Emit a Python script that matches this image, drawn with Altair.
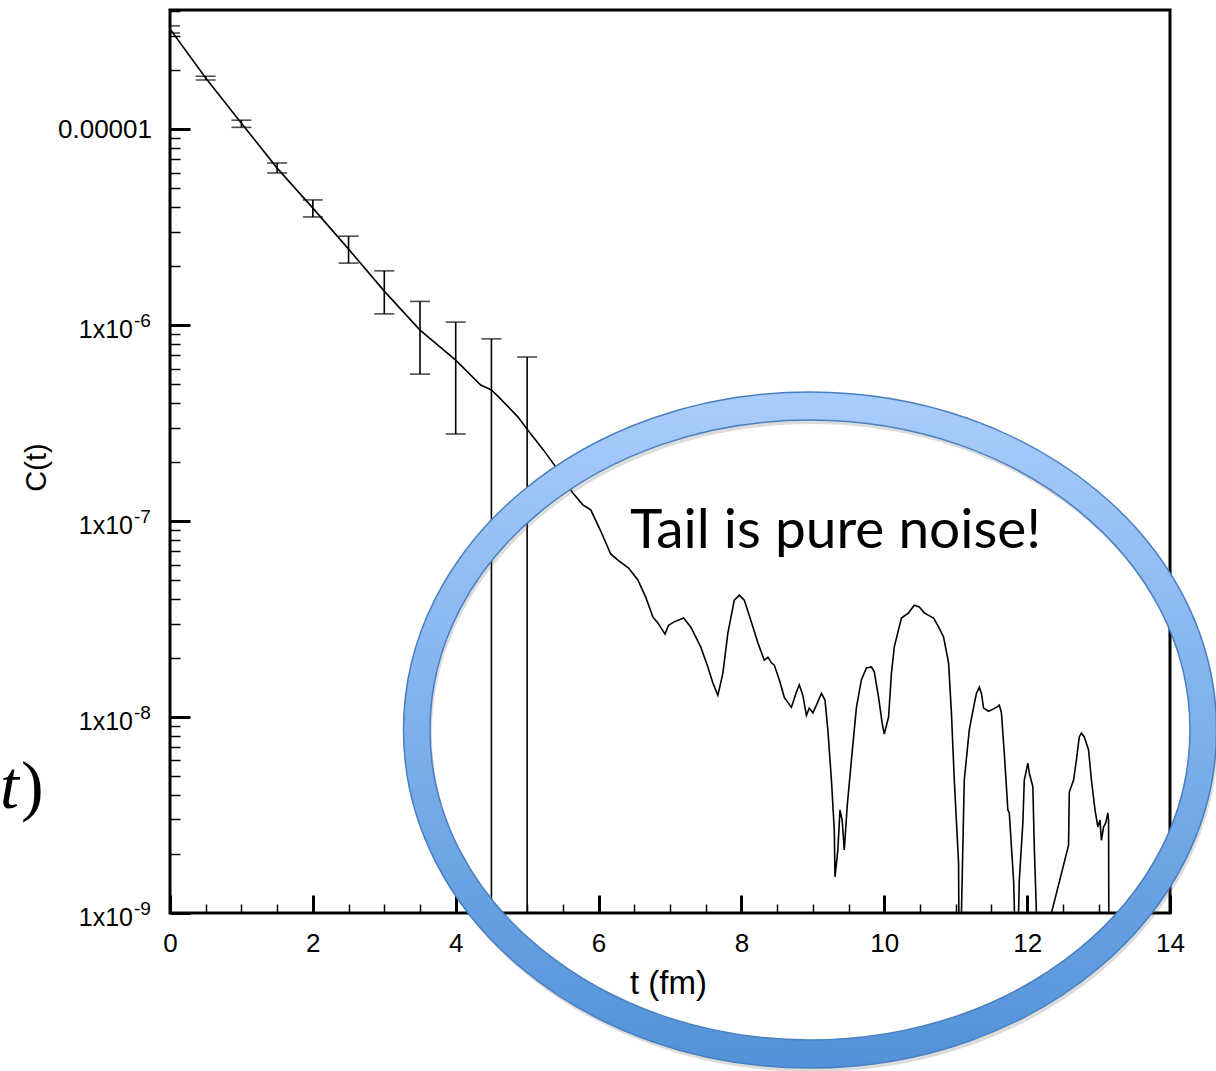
import altair as alt
import pandas as pd

# ---------------------------------------------------------------------------
# Correlator C(t) versus Euclidean time t (fm)
# ---------------------------------------------------------------------------
Y_MIN, Y_MAX = 1e-9, 4.05e-5
OFF = 1e-10  # sample below the axis floor (negative / vanishing correlator)

t_vals = [0, 0.5, 1.0, 1.5, 2.0, 2.5, 3.0, 3.5, 4.0, 4.35,
          4.5, 4.6, 4.87, 5.0, 5.23, 5.40, 5.64, 5.78, 5.89, 6.03,
          6.17, 6.27, 6.42, 6.55, 6.66, 6.76, 6.83, 6.93, 6.98, 7.05,
          7.19, 7.29, 7.43, 7.53, 7.60, 7.67, 7.74, 7.81, 7.90, 7.97,
          8.04, 8.13, 8.23, 8.32, 8.37, 8.42, 8.46, 8.53, 8.60, 8.70,
          8.77, 8.81, 8.86, 8.91, 8.95, 9.00, 9.05, 9.12, 9.17, 9.21,
          9.26, 9.30, 9.31, 9.35, 9.38, 9.41, 9.44, 9.48, 9.54, 9.61,
          9.68, 9.75, 9.82, 9.86, 9.92, 9.97, 10.00, 10.06, 10.10, 10.14,
          10.24, 10.34, 10.42, 10.49, 10.56, 10.69, 10.76, 10.83, 10.90, 10.94,
          10.98, 11.04, 11.06, 11.08, 11.12, 11.19, 11.25, 11.29, 11.33, 11.36,
          11.39, 11.46, 11.53, 11.57, 11.61, 11.64, 11.68, 11.73, 11.75, 11.81,
          11.82, 11.85, 11.88, 11.89, 11.94, 11.96, 12.01, 12.03, 12.08, 12.10,
          12.13, 12.15, 12.32, 12.34, 12.58, 12.59, 12.65, 12.69, 12.73, 12.76,
          12.80, 12.86, 12.90, 12.95, 12.99, 13.02, 13.04, 13.07, 13.10, 13.13,
          13.14, 13.15]

c_vals = [3.24e-5, 1.82e-5, 1.07e-5, 6.32e-6, 3.95e-6, 2.44e-6, 1.49e-6, 9.42e-7, 6.62e-7, 4.94e-7,
          4.66e-7, 4.30e-7, 3.40e-7, 2.94e-7, 2.30e-7, 1.89e-7, 1.39e-7, 1.21e-7, 1.14e-7, 8.89e-8,
          6.79e-8, 6.32e-8, 5.75e-8, 5.00e-8, 4.09e-8, 3.24e-8, 3.02e-8, 2.65e-8, 2.94e-8, 3.05e-8,
          3.20e-8, 2.88e-8, 2.28e-8, 1.80e-8, 1.49e-8, 1.29e-8, 1.67e-8, 2.68e-8, 3.95e-8, 4.19e-8,
          3.95e-8, 3.13e-8, 2.39e-8, 1.95e-8, 2.02e-8, 1.89e-8, 1.84e-8, 1.55e-8, 1.26e-8, 1.12e-8,
          1.34e-8, 1.46e-8, 1.29e-8, 1.02e-8, 1.11e-8, 1.05e-8, 1.15e-8, 1.32e-8, 1.22e-8, 8.59e-9,
          4.77e-9, 2.65e-9, 1.53e-9, 2.10e-9, 3.36e-9, 2.98e-9, 2.10e-9, 3.48e-9, 6.04e-9, 1.12e-8,
          1.55e-8, 1.78e-8, 1.80e-8, 1.70e-8, 1.26e-8, 9.31e-9, 8.19e-9, 1.0e-8, 1.67e-8, 2.28e-8,
          3.20e-8, 3.40e-8, 3.72e-8, 3.64e-8, 3.40e-8, 3.20e-8, 2.88e-8, 2.56e-8, 1.89e-8, 1.05e-8,
          4.77e-9, 1.80e-9, OFF, 1.0e-9, 4.77e-9, 8.59e-9, 1.12e-8, 1.32e-8, 1.42e-8, 1.32e-8,
          1.11e-8, 1.07e-8, 1.10e-8, 1.12e-8, 1.15e-8, 1.05e-8, 6.55e-9, 3.36e-9, 3.24e-9, 1.47e-9,
          1.12e-9, OFF, 1.0e-9, 1.47e-9, 2.88e-9, 4.77e-9, 5.82e-9, 5.18e-9, 4.40e-9, 2.17e-9,
          1.0e-9, OFF, OFF, 1.0e-9, 2.22e-9, 4.14e-9, 4.77e-9, 6.04e-9, 7.91e-9, 8.28e-9,
          7.91e-9, 6.79e-9, 4.77e-9, 3.36e-9, 2.75e-9, 2.98e-9, 2.35e-9, 2.75e-9, 2.88e-9, 3.24e-9,
          2.98e-9, OFF]

# Statistical error bars every 0.5 fm
eb_t = [0, 0.5, 1.0, 1.5, 2.0, 2.5, 3.0, 3.5, 4.0, 4.5, 5.0]
eb_hi = [3.36e-5, 1.86e-5, 1.11e-5, 6.71e-6, 4.35e-6, 2.84e-6, 1.89e-6, 1.32e-6, 1.035e-6, 8.50e-7, 6.87e-7]
eb_lo = [3.09e-5, 1.78e-5, 1.02e-5, 5.97e-6, 3.56e-6, 2.07e-6, 1.14e-6, 5.62e-7, 2.78e-7, OFF, OFF]

# Axis ticks and labels
x_major = [0, 2, 4, 6, 8, 10, 12, 14]
x_minor = [v / 2 for v in range(0, 29) if v % 4 != 0]
y_major = [1e-9, 1e-8, 1e-7, 1e-6, 1e-5]
y_minor = [m * 10.0 ** e for e in range(-9, -4) for m in range(2, 10) if m * 10.0 ** e < Y_MAX]
y_base = ["1x10", "1x10", "1x10", "1x10", "0.00001"]
y_exp = ["-9", "-8", "-7", "-6", ""]

W, H = 1000, 903
FONT = "Liberation Sans"

curve = pd.DataFrame({"t": t_vals, "C": c_vals})
bars = pd.DataFrame({"t": eb_t, "hi": eb_hi, "lo": eb_lo})
caps = pd.DataFrame({"t": eb_t * 2, "C": eb_hi + eb_lo})
ylab = pd.DataFrame({"v": y_major, "base": y_base, "exp": y_exp})

xs = alt.Scale(domain=[0, 14], nice=False, zero=False)
ys = alt.Scale(type="log", domain=[Y_MIN, Y_MAX], nice=False)

x_label_axis = alt.Axis(orient="bottom", values=x_major, format="d", ticks=False, tickSize=0,
                        domain=False, grid=False, labelFont=FONT, labelFontSize=26,
                        labelColor="black", labelPadding=17, labelFlush=False, labelOverlap=False,
                        title="t (fm)", titleFont=FONT, titleFontSize=33, titleFontWeight="normal",
                        titleColor="black", titleX=498, titleY=70, titleAlign="center",
                        titleBaseline="middle")
y_title_axis = alt.Axis(orient="left", values=y_major, ticks=False, tickSize=0, domain=False,
                        grid=False, labels=False, title="C(t)", titleFont=FONT, titleFontSize=29,
                        titleFontWeight="normal", titleColor="black", titleX=-134, titleY=457,
                        titleAlign="center", titleBaseline="middle", titleAngle=270)


def tick_axis(orient, values, length, width):
    # inward-pointing ticks: the axis line is pulled into the plot by its tick length
    return alt.Axis(orient=orient, values=values, labels=False, domain=False, grid=False,
                    ticks=True, tickSize=length, tickWidth=width, tickColor="black",
                    offset=-length, title=None)


line = alt.Chart(curve).mark_line(color="black", strokeWidth=1.6, clip=True).encode(
    x=alt.X("t:Q", scale=xs, axis=x_label_axis),
    y=alt.Y("C:Q", scale=ys, axis=y_title_axis),
)

rules = alt.Chart(bars).mark_rule(color="black", strokeWidth=1.6, clip=True).encode(
    x=alt.X("t:Q", scale=xs, axis=tick_axis("bottom", x_major, 18, 3)),
    y=alt.Y("hi:Q", scale=ys, axis=tick_axis("left", y_major, 20, 3)),
    y2="lo:Q",
)

cap_marks = alt.Chart(caps).mark_tick(color="black", orient="horizontal", size=20,
                                      thickness=1.6, clip=True).encode(
    x=alt.X("t:Q", scale=xs, axis=tick_axis("bottom", x_minor, 9, 1.5)),
    y=alt.Y("C:Q", scale=ys, axis=tick_axis("left", y_minor, 10, 1.5)),
)

# y tick labels: mantissa text plus a raised exponent
plain_lab = alt.Chart(ylab).transform_filter("datum.exp == ''").mark_text(
    font=FONT, fontSize=26, align="right", baseline="middle", dy=1, color="black"
).encode(x=alt.value(-18), y=alt.Y("v:Q", scale=ys, axis=None), text="base:N")

base_lab = alt.Chart(ylab).transform_filter("datum.exp != ''").mark_text(
    font=FONT, fontSize=25, align="right", baseline="middle", dy=5, color="black"
).encode(x=alt.value(-37), y=alt.Y("v:Q", scale=ys, axis=None), text="base:N")

exp_lab = alt.Chart(ylab).transform_filter("datum.exp != ''").mark_text(
    font=FONT, fontSize=19, align="left", baseline="middle", dy=-4, color="black"
).encode(x=alt.value(-36), y=alt.Y("v:Q", scale=ys, axis=None), text="exp:N")

# Highlight ring around the noisy tail
CX, CY, S = 640, 720, 420
oa, ob = 406.5 / S, 338 / S
ia, ib = 380 / S, 310 / S
ring_path = (f"M {-oa:.5f} 0 A {oa:.5f} {ob:.5f} 0 1 1 {oa:.5f} 0 "
             f"A {oa:.5f} {ob:.5f} 0 1 1 {-oa:.5f} 0 Z "
             f"M {-ia:.5f} 0 A {ia:.5f} {ib:.5f} 0 1 0 {ia:.5f} 0 "
             f"A {ia:.5f} {ib:.5f} 0 1 0 {-ia:.5f} 0 Z")
one = pd.DataFrame({"k": [0]})

ring_shadow = alt.Chart(one).mark_point(shape=ring_path, size=(2 * S) ** 2, filled=True,
                                        fill="#606060", opacity=0.22, strokeWidth=0).encode(
    x=alt.value(CX + 2), y=alt.value(CY + 4))

ring = alt.Chart(one).mark_point(
    shape=ring_path, size=(2 * S) ** 2, filled=True, opacity=1,
    fill=alt.Gradient(gradient="linear", x1=0, y1=0, x2=0, y2=1,
                      stops=[alt.GradientStop(color="#a9cdfb", offset=0),
                             alt.GradientStop(color="#7eb0ec", offset=0.5),
                             alt.GradientStop(color="#5292d8", offset=1)]),
    stroke="#4a7fc0", strokeWidth=1.5,
).encode(x=alt.value(CX), y=alt.value(CY))

note = alt.Chart(one).mark_text(text="Tail is pure noise!", font="Lato", fontSize=55,
                                align="left", baseline="alphabetic", color="black").encode(
    x=alt.value(460), y=alt.value(538))

# fragment of an equation at the left edge of the slide
frag_t = alt.Chart(one).mark_text(text="t", font="Liberation Serif", fontSize=68,
                                  fontStyle="italic", align="right", baseline="alphabetic",
                                  color="black").encode(x=alt.value(-151), y=alt.value(798))
frag_p = alt.Chart(one).mark_text(text=")", font="Liberation Serif", fontSize=68,
                                  align="left", baseline="alphabetic",
                                  color="black").encode(x=alt.value(-149), y=alt.value(798))

chart = alt.layer(line, rules, cap_marks, plain_lab, base_lab, exp_lab, ring_shadow, ring, note,
                  frag_t, frag_p).resolve_axis(
    x="independent", y="independent"
).properties(
    width=W, height=H,
    autosize=alt.AutoSizeParams(type="none"),
    padding={"left": 170, "top": 10, "right": 46, "bottom": 158},
    background="white",
).configure_view(stroke="black", strokeWidth=3).configure_axis(grid=False)

chart.save("out.html", embed_options={"renderer": "svg", "actions": False})
